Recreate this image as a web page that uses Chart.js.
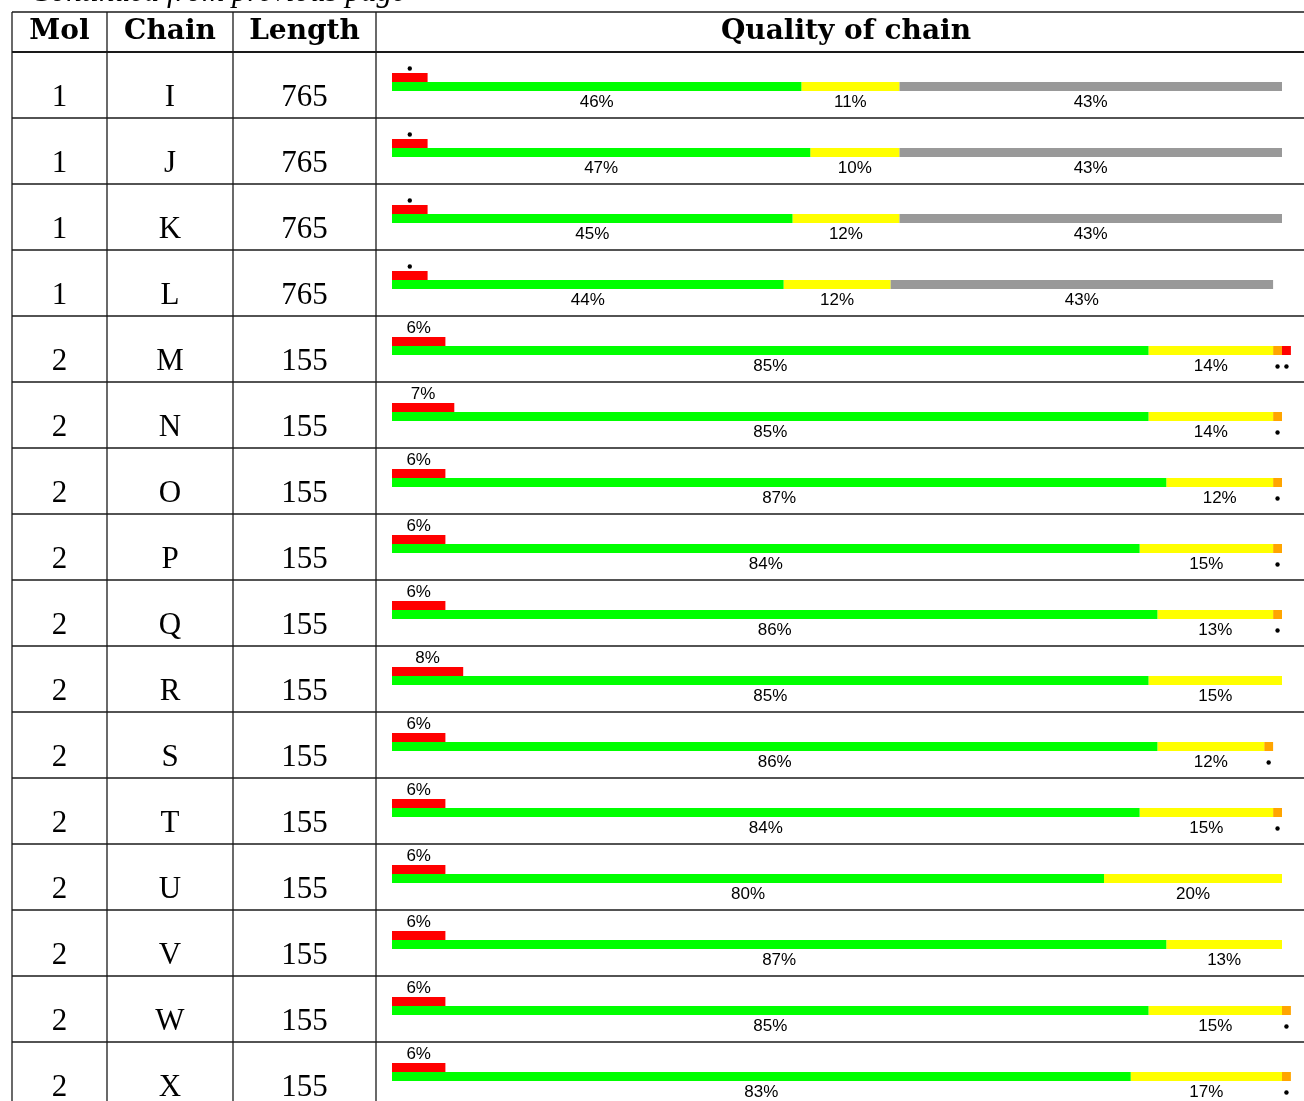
<!DOCTYPE html>
<html>
<head>
<meta charset="utf-8">
<script src="https://cdn.jsdelivr.net/npm/chart.js@4.4.1/dist/chart.umd.min.js"></script>
<style>
  html, body { margin: 0; padding: 0; background: #fff; overflow: hidden; }
  #wrap { position: relative; width: 1304px; height: 1110px; }
</style>
</head>
<body>
<div id="wrap"><canvas id="quality"></canvas></div>
<script>
(function () {
  'use strict';

  // ── Table data (one entry per chain) ─────────────────────────────────
  var mols    = [1, 1, 1, 1, 2, 2, 2, 2, 2, 2, 2, 2, 2, 2, 2, 2];
  var chains  = ['I', 'J', 'K', 'L', 'M', 'N', 'O', 'P', 'Q', 'R', 'S', 'T', 'U', 'V', 'W', 'X'];
  var lengths = [765, 765, 765, 765, 155, 155, 155, 155, 155, 155, 155, 155, 155, 155, 155, 155];

  // density-fit outliers (red bar above)
  var outliers = [4, 4, 4, 4, 6, 7, 6, 6, 6, 8, 6, 6, 6, 6, 6, 6];

  // geometry quality, percent of residues
  var green  = [46, 47, 45, 44, 85, 85, 87, 84, 86, 85, 86, 84, 80, 87, 85, 83];
  var yellow = [11, 10, 12, 12, 14, 14, 12, 15, 13, 15, 12, 15, 20, 13, 15, 17];
  var orange = [0, 0, 0, 0, 1, 1, 1, 1, 1, 0, 1, 1, 0, 0, 1, 1];
  var red    = [0, 0, 0, 0, 1, 0, 0, 0, 0, 0, 0, 0, 0, 0, 0, 0];
  var grey   = [43, 43, 43, 43, 0, 0, 0, 0, 0, 0, 0, 0, 0, 0, 0, 0];

  var headers = ['Mol', 'Chain', 'Length', 'Quality of chain'];

  // ── Layout of the table frame ────────────────────────────────────────
  var colX = [12, 107, 233, 376];
  var tableTop = 12;
  var headBottom = 52;
  var lineCol = '#1a1a1a';

  var labelFont = '17px "Liberation Sans", Arial, sans-serif';

  function pctText(v) {
    return v < 5 ? null : v + '%';
  }

  // ── Plugin: draws table grid, cell texts and bar labels ──────────────
  var tablePlugin = {
    id: 'tablePlugin',
    beforeDraw: function (chart) {
      var ctx = chart.ctx;
      var ys = chart.scales.y;
      var W = chart.width, H = chart.height;
      ctx.save();
      ctx.fillStyle = '#fff';
      ctx.fillRect(0, 0, W, H);

      // cropped caption at the very top
      ctx.fillStyle = '#000';
      ctx.font = 'italic 31px "Liberation Serif", "DejaVu Serif", serif';
      ctx.textAlign = 'left';
      ctx.textBaseline = 'alphabetic';
      ctx.fillText('Continued from previous page', 30, 1);

      ctx.strokeStyle = lineCol;
      // horizontal lines
      ctx.lineWidth = 1.3;
      ctx.beginPath();
      ctx.moveTo(colX[0], tableTop); ctx.lineTo(W, tableTop);
      ctx.stroke();
      ctx.lineWidth = 2.2;
      ctx.beginPath();
      ctx.moveTo(colX[0], headBottom); ctx.lineTo(W, headBottom);
      ctx.stroke();
      ctx.lineWidth = 1.3;
      for (var i = 0; i < chains.length; i++) {
        var yl = ys.getPixelForValue(i) + 36;
        ctx.beginPath();
        ctx.moveTo(colX[0], yl); ctx.lineTo(W, yl);
        ctx.stroke();
      }
      // vertical lines
      colX.forEach(function (x) {
        ctx.beginPath();
        ctx.moveTo(x, tableTop); ctx.lineTo(x, H);
        ctx.stroke();
      });

      // header texts
      ctx.fillStyle = '#000';
      ctx.textAlign = 'center';
      ctx.font = 'bold 28px "DejaVu Serif", "Liberation Serif", serif';
      var hx = [(colX[0] + colX[1]) / 2, (colX[1] + colX[2]) / 2, (colX[2] + colX[3]) / 2, 846];
      headers.forEach(function (h, k) {
        ctx.fillText(h, hx[k], 39);
      });

      // body texts
      ctx.font = '31px "Liberation Serif", "DejaVu Serif", serif';
      for (var r = 0; r < chains.length; r++) {
        var yb = ys.getPixelForValue(r) + 24;
        ctx.fillText(String(mols[r]), hx[0], yb);
        ctx.fillText(chains[r], hx[1], yb);
        ctx.fillText(String(lengths[r]), hx[2], yb);
      }
      ctx.restore();
    },
    afterDatasetsDraw: function (chart) {
      var ctx = chart.ctx;
      ctx.save();
      ctx.fillStyle = '#000';
      ctx.font = labelFont;
      ctx.textAlign = 'center';
      chart.data.datasets.forEach(function (ds, di) {
        var meta = chart.getDatasetMeta(di);
        meta.data.forEach(function (bar, idx) {
          var v = ds.data[idx];
          if (!v) return;
          var p = bar.getProps(['x', 'y', 'base', 'height'], true);
          var cx = (p.x + p.base) / 2;
          var txt = pctText(v);
          if (ds.stack === 'top') {
            var top = p.y - p.height / 2;
            if (txt) {
              ctx.textBaseline = 'alphabetic';
              ctx.fillText(txt, cx, top - 4);
            } else {
              ctx.beginPath();
              ctx.arc(cx, top - 4.5, 2.2, 0, Math.PI * 2);
              ctx.fill();
            }
          } else {
            var bottom = p.y + p.height / 2;
            if (txt) {
              ctx.textBaseline = 'alphabetic';
              ctx.fillText(txt, cx, bottom + 15.5);
            } else {
              ctx.beginPath();
              ctx.arc(cx, bottom + 11.5, 2.2, 0, Math.PI * 2);
              ctx.fill();
            }
          }
        });
      });
      ctx.restore();
    }
  };

  function barSet(label, data, color, stack) {
    return {
      label: label,
      data: data,
      backgroundColor: color,
      borderWidth: 0,
      stack: stack,
      clip: false,
      categoryPercentage: 18 / 66,
      barPercentage: 1
    };
  }

  var canvas = document.getElementById('quality');
  new Chart(canvas.getContext('2d'), {
    type: 'bar',
    data: {
      labels: chains,
      datasets: [
        barSet('Outliers', outliers, '#ff0000', 'top'),
        barSet('Good', green, '#00ff00', 'main'),
        barSet('Minor', yellow, '#ffff00', 'main'),
        barSet('Moderate', orange, '#ffa500', 'main'),
        barSet('Severe', red, '#ff0000', 'main'),
        barSet('Missing', grey, '#999999', 'main')
      ]
    },
    options: {
      indexAxis: 'y',
      responsive: true,
      maintainAspectRatio: false,
      animation: false,
      layout: { padding: { left: 392, right: 22, top: 49, bottom: 5 } },
      plugins: {
        legend: { display: false },
        tooltip: { enabled: false }
      },
      scales: {
        x: { display: false, stacked: true, min: 0, max: 100 },
        y: { display: false, stacked: true }
      }
    },
    plugins: [tablePlugin]
  });
})();
</script>
</body>
</html>
